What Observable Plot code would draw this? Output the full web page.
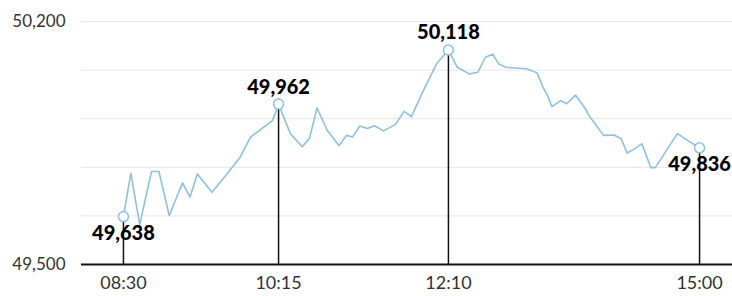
<!DOCTYPE html>
<html>
<head>
<meta charset="utf-8">
<script src="https://cdn.jsdelivr.net/npm/d3@7"></script>
<script src="https://cdn.jsdelivr.net/npm/@observablehq/plot@0.6"></script>
<style>
  html, body { margin: 0; padding: 0; background: #fff; }
  #chart svg { display: block; }
</style>
</head>
<body>
<div id="chart"></div>
<script>
const times = ["08:30","08:35","08:41","08:49","08:54","09:01","09:10","09:15","09:20","09:30",
  "09:41","09:49","09:56","10:05","10:11","10:15","10:23","10:31","10:36","10:41",
  "10:48","10:56","11:01","11:05","11:10","11:15","11:20","11:26","11:34","11:40",
  "11:45","11:52","12:02","12:10","12:16","12:24","12:30","12:35","12:40","12:44",
  "12:49","13:03","13:10","13:14","13:17","13:20","13:26","13:30","13:36","13:42",
  "13:46","13:55","14:02","14:07","14:11","14:16","14:21","14:27","14:30","14:45",
  "14:54","15:00"];
const values = [49638,49763,49615,49768,49768,49641,49735,49694,49761,49708,
  49766,49809,49867,49896,49915,49962,49877,49839,49864,49951,
  49886,49843,49872,49867,49899,49892,49900,49885,49903,49941,
  49926,49992,50078,50118,50068,50049,50054,50097,50106,50078,
  50068,50064,50052,50011,49987,49955,49972,49963,49988,49953,
  49924,49872,49873,49862,49821,49833,49848,49779,49779,49877,
  49852,49836];
const tickLabels = ["08:30","10:15","12:10","15:00"];
const yTickValues = [49500, 50200];
const gridValues = [49640, 49780, 49920, 50060, 50200];

const toMin = s => { const [h, m] = s.split(":").map(Number); return h * 60 + m; };
const data = times.map((t, i) => ({t: toMin(t), v: values[i], i}));
const tickMinutes = tickLabels.map(toMin);
const keyPts = tickLabels.map(l => data.find(d => d.t === toMin(l)));
const isPeak = d => {
  const prev = data[d.i - 1], next = data[d.i + 1];
  return prev && next && d.v > prev.v && d.v > next.v;
};
const fmt = d3.format(",");
const blue = "#8fc0e3";

const chart = Plot.plot({
  width: 732,
  height: 296,
  marginLeft: 81,
  marginRight: 0,
  marginTop: 21,
  marginBottom: 32,
  style: {fontFamily: "Lato, 'Open Sans', sans-serif", background: "#fff"},
  x: {domain: [481.6, 922.3]},
  y: {domain: [49500, 50200]},
  marks: [
    Plot.ruleY(gridValues, {stroke: "#e6e6e6", strokeWidth: 1}),
    Plot.ruleY([49500], {stroke: "#111", strokeWidth: 2}),
    Plot.axisY(yTickValues, {tickSize: 0, tickPadding: 16, fontSize: 17, fill: "#333", tickFormat: fmt, label: null}),
    Plot.axisX(tickMinutes, {tickSize: 0, tickPadding: 12, fontSize: 18, fill: "#333", tickFormat: (d, i) => tickLabels[i], label: null}),
    Plot.ruleX(keyPts, {x: "t", y1: 49500, y2: "v", stroke: "#111", strokeWidth: 1.5}),
    Plot.line(data, {x: "t", y: "v", stroke: blue, strokeWidth: 1.6}),
    Plot.dot(keyPts, {x: "t", y: "v", r: 5, fill: "#fff", stroke: blue, strokeWidth: 1.5}),
    Plot.text(keyPts.filter(isPeak), {x: "t", y: "v", text: d => fmt(d.v), dy: -17, fontSize: 20, fontWeight: 900, fill: "#000"}),
    Plot.text(keyPts.filter(d => !isPeak(d)), {x: "t", y: "v", text: d => fmt(d.v), dy: 17, fontSize: 20, fontWeight: 900, fill: "#000"})
  ]
});
document.getElementById("chart").append(chart);
</script>
</body>
</html>
